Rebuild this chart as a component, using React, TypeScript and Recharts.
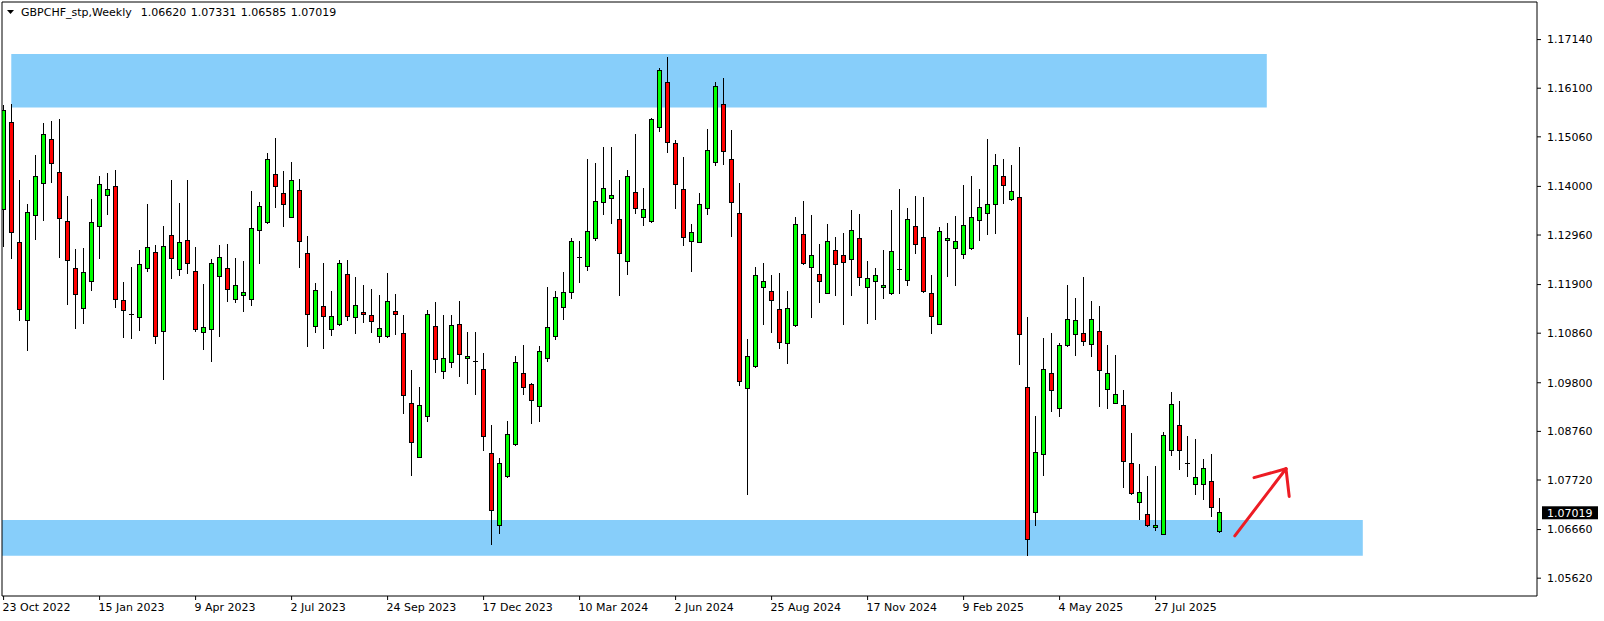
import React from 'react';
import {
  ComposedChart,
  Bar,
  XAxis,
  YAxis,
  ReferenceArea,
  ReferenceLine
} from 'recharts';

// weekly GBPCHF candles, first bar = week of 23 Oct 2022
const opens = [
  1.13501, 1.15368, 1.12805, 1.11135, 1.13378, 1.14058, 1.15007, 1.14303, 1.13247, 1.12249,
  1.11381, 1.11970, 1.13141, 1.13804, 1.14000, 1.11561, 1.11262, 1.11201, 1.12240, 1.12584,
  1.10898, 1.12953, 1.12216, 1.12846, 1.12183, 1.10873, 1.10947, 1.12077, 1.12249, 1.11586,
  1.11667, 1.11586, 1.13051, 1.13223, 1.14254, 1.13853, 1.13337, 1.13910, 1.12568, 1.11004,
  1.11430, 1.10947, 1.11045, 1.12118, 1.11201, 1.11307, 1.11242, 1.10792, 1.10792, 1.11324,
  1.10857, 1.09359, 1.08205, 1.09081, 1.11004, 1.10047, 1.10235, 1.11045, 1.10317, 1.10255,
  1.10088, 1.08287, 1.06748, 1.07795, 1.08475, 1.09998, 1.09760, 1.09294, 1.10317, 1.10792,
  1.11414, 1.11725, 1.12482, 1.12281, 1.12879, 1.13648, 1.13747, 1.13296, 1.12396, 1.13869,
  1.13337, 1.13239, 1.15261, 1.16227, 1.14917, 1.13935, 1.12822, 1.12797, 1.13526, 1.14508,
  1.15752, 1.14573, 1.13419, 1.09670, 1.10145, 1.11839, 1.11758, 1.11373, 1.10636, 1.11021,
  1.12977, 1.12265, 1.12118, 1.11708, 1.12633, 1.12527, 1.12437, 1.12887, 1.11839, 1.11962,
  1.11839, 1.11708, 1.12228, 1.11987, 1.13141, 1.12912, 1.11708, 1.11045, 1.12838, 1.12666,
  1.12543, 1.12666, 1.13264, 1.13419, 1.13608, 1.14213, 1.13722, 1.13763, 1.09703, 1.07026,
  1.08262, 1.10006, 1.09253, 1.10595, 1.10832, 1.10857, 1.10620, 1.10898, 1.09654, 1.09359,
  1.09318, 1.08074, 1.07239, 1.06985, 1.06699, 1.06551, 1.08352, 1.08876, 1.08078, 1.07624,
  1.07624, 1.07689, 1.06620
];
const highs = [
  1.15736, 1.15760, 1.14140, 1.13632, 1.14672, 1.15359, 1.15392, 1.15441, 1.13788, 1.12658,
  1.12683, 1.13730, 1.14213, 1.14279, 1.14352, 1.11954, 1.12273, 1.12642, 1.13624, 1.12748,
  1.13149, 1.14140, 1.13640, 1.14140, 1.12707, 1.11913, 1.12445, 1.12748, 1.12764, 1.12470,
  1.12404, 1.13902, 1.13665, 1.14713, 1.15032, 1.14328, 1.14524, 1.14156, 1.12936, 1.11929,
  1.12363, 1.11766, 1.12429, 1.12429, 1.12060, 1.11888, 1.11807, 1.11676, 1.12150, 1.11708,
  1.11250, 1.10071, 1.09711, 1.11356, 1.11520, 1.11250, 1.11250, 1.11545, 1.10882, 1.10882,
  1.10431, 1.08892, 1.08188, 1.08974, 1.10374, 1.10603, 1.09793, 1.10579, 1.11848, 1.11766,
  1.12167, 1.12895, 1.12822, 1.14582, 1.14500, 1.14844, 1.14844, 1.14140, 1.14352, 1.15122,
  1.13968, 1.15466, 1.16530, 1.16767, 1.14983, 1.14631, 1.13198, 1.13861, 1.15228, 1.16235,
  1.16317, 1.15204, 1.14074, 1.10734, 1.12273, 1.12363, 1.12101, 1.12150, 1.11766, 1.13346,
  1.13689, 1.13387, 1.12764, 1.13198, 1.12920, 1.13002, 1.13493, 1.13411, 1.12404, 1.12257,
  1.12642, 1.13493, 1.13943, 1.13534, 1.13796, 1.13771, 1.12101, 1.13133, 1.13215, 1.13370,
  1.14033, 1.14221, 1.13943, 1.15016, 1.14696, 1.14582, 1.14459, 1.14844, 1.11209, 1.09089,
  1.10759, 1.10865, 1.10661, 1.11888, 1.11610, 1.12060, 1.11545, 1.11438, 1.10603, 1.10390,
  1.09646, 1.08720, 1.08057, 1.07804, 1.08017, 1.08737, 1.09605, 1.09408, 1.08663, 1.08598,
  1.08164, 1.08278, 1.07331
];
const lows = [
  1.12707, 1.12445, 1.11111, 1.10472, 1.12854, 1.13256, 1.14074, 1.12478, 1.11463, 1.10955,
  1.11054, 1.11766, 1.12445, 1.13387, 1.11406, 1.10767, 1.10742, 1.10906, 1.12167, 1.10636,
  1.09867, 1.12028, 1.12093, 1.12126, 1.10882, 1.10505, 1.10251, 1.10783, 1.11536, 1.11504,
  1.11315, 1.11438, 1.12339, 1.13198, 1.13534, 1.13133, 1.13321, 1.12257, 1.10571, 1.10873,
  1.10530, 1.10808, 1.11021, 1.11127, 1.10849, 1.11086, 1.10873, 1.10661, 1.10767, 1.10832,
  1.09138, 1.07812, 1.08195, 1.08966, 1.10014, 1.09891, 1.10120, 1.09932, 1.09776, 1.09547,
  1.08344, 1.06338, 1.06568, 1.07771, 1.08450, 1.09547, 1.08925, 1.08966, 1.10243, 1.10718,
  1.11152, 1.11602, 1.11929, 1.12200, 1.12822, 1.13378, 1.13198, 1.11659, 1.12110, 1.13419,
  1.13157, 1.13215, 1.15163, 1.14721, 1.13526, 1.12732, 1.12159, 1.12781, 1.13378, 1.14426,
  1.14459, 1.12928, 1.09736, 1.07403, 1.10120, 1.11045, 1.10873, 1.10530, 1.10210, 1.10996,
  1.12322, 1.11193, 1.11512, 1.11692, 1.11659, 1.11045, 1.11659, 1.11880, 1.11062, 1.11152,
  1.11586, 1.11684, 1.11708, 1.11880, 1.12560, 1.11725, 1.10849, 1.11029, 1.12069, 1.11880,
  1.12437, 1.12650, 1.12838, 1.12969, 1.12985, 1.13632, 1.13698, 1.10186, 1.06101, 1.06739,
  1.07812, 1.09179, 1.09072, 1.10571, 1.10374, 1.10595, 1.10358, 1.09285, 1.09244, 1.09342,
  1.07558, 1.07403, 1.06862, 1.06723, 1.06633, 1.06535, 1.08238, 1.07943, 1.07787, 1.07403,
  1.07296, 1.06936, 1.06585
];
const closes = [
  1.15629, 1.13018, 1.11373, 1.13444, 1.14213, 1.15114, 1.14483, 1.13313, 1.12412, 1.11684,
  1.12159, 1.13231, 1.14041, 1.13935, 1.11586, 1.11348, 1.11255, 1.12331, 1.12699, 1.10792,
  1.12715, 1.12453, 1.12805, 1.12347, 1.10947, 1.10980, 1.12355, 1.12478, 1.11790, 1.11880,
  1.11733, 1.13100, 1.13575, 1.14582, 1.13992, 1.13608, 1.14131, 1.12822, 1.11258, 1.11774,
  1.11217, 1.11217, 1.12355, 1.11217, 1.11455, 1.11258, 1.11119, 1.10963, 1.11536, 1.11258,
  1.09531, 1.08524, 1.09318, 1.11258, 1.10300, 1.10317, 1.11029, 1.10399, 1.10366, 1.10248,
  1.08655, 1.07075, 1.08074, 1.08696, 1.10235, 1.09703, 1.09424, 1.10472, 1.10980, 1.11627,
  1.11733, 1.12822, 1.12474, 1.13035, 1.13681, 1.13960, 1.13804, 1.12568, 1.14213, 1.13526,
  1.13509, 1.15433, 1.16481, 1.14942, 1.14041, 1.12912, 1.13018, 1.13616, 1.14770, 1.16137,
  1.14745, 1.13657, 1.09826, 1.10366, 1.12093, 1.11970, 1.11553, 1.10661, 1.11389, 1.13190,
  1.12347, 1.12527, 1.11962, 1.12822, 1.12331, 1.12371, 1.13059, 1.12052, 1.12028, 1.12093,
  1.11880, 1.12609, 1.12220, 1.13296, 1.12756, 1.11749, 1.11217, 1.13035, 1.12887, 1.12822,
  1.13165, 1.13337, 1.13550, 1.13616, 1.14451, 1.14017, 1.13894, 1.10832, 1.06445, 1.08311,
  1.10088, 1.09629, 1.10595, 1.11152, 1.11135, 1.10677, 1.11152, 1.10055, 1.09998, 1.09547,
  1.08115, 1.07427, 1.07452, 1.06748, 1.06748, 1.08680, 1.09343, 1.08352, 1.08070, 1.07771,
  1.07976, 1.07124, 1.07019
];

const dateTicks = [0, 12, 24, 36, 48, 60, 72, 84, 96, 108, 120, 132, 144];
const dateLabels = [
  '23 Oct 2022', '15 Jan 2023', '9 Apr 2023', '2 Jul 2023', '24 Sep 2023', '17 Dec 2023',
  '10 Mar 2024', '2 Jun 2024', '25 Aug 2024', '17 Nov 2024', '9 Feb 2025', '4 May 2025', '27 Jul 2025'
];
const priceTicks = [1.0562, 1.0666, 1.0772, 1.0876, 1.098, 1.1086, 1.119, 1.1296, 1.14, 1.1506, 1.161, 1.1714];

// zones: [bar from, bar to, price low, price high]
const supplyZone = [0.96, 157.9, 1.15688, 1.16832];
const demandZone = [-0.2, 169.9, 1.06101, 1.06864];

// hand drawn arrow, [bar, price] pairs
const arrowShaft = [[153.9, 1.06526], [160.3, 1.0796]];
const arrowLeft = [[156.3, 1.07771], [160.3, 1.0796]];
const arrowRight = [[160.7, 1.07369], [160.3, 1.0796]];

const xDomain = [-0.2, 191.675];
const yDomain = [1.05239, 1.17944];

const FONT = '"DejaVu Sans", Verdana, sans-serif';
const BULL = '#00ff00';
const BEAR = '#ff0000';
const ZONE = '#87cefa';

const candles = opens.map((o, i) => ({
  i,
  o,
  h: highs[i],
  l: lows[i],
  c: closes[i],
}));

const Candle = (props: any) => {
  const { x, y, width, height, payload } = props;
  if (!payload || x == null) return null;
  const { o, h, l, c } = payload;
  const top = Math.min(y, y + height);
  const bot = Math.max(y, y + height);
  const k = h - l > 0 ? (bot - top) / (h - l) : 0;
  const py = (p: number) => top + (h - p) * k;
  const cx = Math.floor(x + width / 2) + 0.5;
  const bTop = py(Math.max(o, c));
  const bBot = py(Math.min(o, c));
  return (
    <g>
      <line x1={cx} x2={cx} y1={top} y2={bot} stroke="#000" strokeWidth={1} shapeRendering="crispEdges" />
      <rect
        x={cx - 2}
        y={bTop}
        width={4}
        height={Math.max(bBot - bTop, 0.01)}
        fill={c >= o ? BULL : BEAR}
        stroke="#000"
        strokeWidth={1}
        shapeRendering="crispEdges"
      />
    </g>
  );
};

const DateTick = ({ x, y, payload }: any) => {
  const idx = dateTicks.indexOf(payload.value);
  return (
    <text x={x - 1} y={y} dy="0.71em" textAnchor="start" fontFamily={FONT} fontSize={11} fill="#000">
      {idx >= 0 ? dateLabels[idx] : ''}
    </text>
  );
};

const PriceTag = ({ viewBox }: any) => {
  if (!viewBox) return null;
  const { x, y, width } = viewBox;
  const left = x + width + 5;
  return (
    <g>
      <rect x={left} y={y - 6.5} width={56} height={13} fill="#000" />
      <text x={left + 5} y={y} dy="0.355em" fill="#fff" fontFamily={FONT} fontSize={11}>
        {closes[closes.length - 1].toFixed(5)}
      </text>
    </g>
  );
};

const toSeg = (pts: number[][]) => pts.map(([x, y]) => ({ x, y }));

export default function App() {
  return (
    <div style={{ position: 'absolute', left: 0, top: 0, width: 1604, height: 621, background: '#fff', fontFamily: FONT }}>
      <ComposedChart
        width={1604}
        height={621}
        data={candles}
        margin={{ top: 2, right: 0, bottom: 0, left: 2 }}
      >
        <XAxis
          dataKey="i"
          type="number"
          domain={xDomain}
          allowDataOverflow
          ticks={dateTicks}
          interval={0}
          height={25}
          tickSize={4}
          tickMargin={3}
          axisLine={{ stroke: '#000' }}
          tickLine={{ stroke: '#000' }}
          tick={<DateTick />}
        />
        <YAxis
          orientation="right"
          type="number"
          domain={yDomain}
          allowDataOverflow
          ticks={priceTicks}
          interval={0}
          width={67}
          tickSize={4}
          tickMargin={6}
          axisLine={{ stroke: '#000' }}
          tickLine={{ stroke: '#000' }}
          tickFormatter={(v: number) => v.toFixed(5)}
          tick={{ fontSize: 11, fontFamily: FONT, fill: '#000' }}
        />

        <ReferenceArea
          x1={supplyZone[0]}
          x2={supplyZone[1]}
          y1={supplyZone[2]}
          y2={supplyZone[3]}
          fill={ZONE}
          fillOpacity={1}
          stroke="none"
        />
        <ReferenceArea
          x1={demandZone[0]}
          x2={demandZone[1]}
          y1={demandZone[2]}
          y2={demandZone[3]}
          fill={ZONE}
          fillOpacity={1}
          stroke="none"
        />

        <ReferenceLine y={yDomain[1]} stroke="#000" strokeWidth={1} />
        <ReferenceLine x={xDomain[0]} stroke="#000" strokeWidth={1} />

        <Bar
          dataKey={(d: any) => [d.l, d.h]}
          barSize={5}
          shape={<Candle />}
          isAnimationActive={false}
        />

        <ReferenceLine segment={toSeg(arrowShaft)} stroke="#ed1c24" strokeWidth={3} strokeLinecap="round" />
        <ReferenceLine segment={toSeg(arrowLeft)} stroke="#ed1c24" strokeWidth={3} strokeLinecap="round" />
        <ReferenceLine segment={toSeg(arrowRight)} stroke="#ed1c24" strokeWidth={3} strokeLinecap="round" />

        <ReferenceLine
          y={closes[closes.length - 1]}
          strokeOpacity={0}
          label={<PriceTag />}
        />
      </ComposedChart>

      <div
        style={{
          position: 'absolute',
          left: 7,
          top: 6,
          height: 13,
          display: 'flex',
          alignItems: 'center',
          fontSize: 11,
          lineHeight: '13px',
          color: '#000',
          whiteSpace: 'pre',
        }}
      >
        <svg width={8} height={5} style={{ marginRight: 6 }}>
          <polygon points="0,0 7,0 3.5,4" fill="#000" />
        </svg>
        <span>GBPCHF_stp,Weekly</span>
        <span style={{ marginLeft: 9 }}>{opens[opens.length - 1].toFixed(5)}</span>
        <span style={{ marginLeft: 4.5 }}>{highs[highs.length - 1].toFixed(5)}</span>
        <span style={{ marginLeft: 4.5 }}>{lows[lows.length - 1].toFixed(5)}</span>
        <span style={{ marginLeft: 4.5 }}>{closes[closes.length - 1].toFixed(5)}</span>
      </div>
    </div>
  );
}
